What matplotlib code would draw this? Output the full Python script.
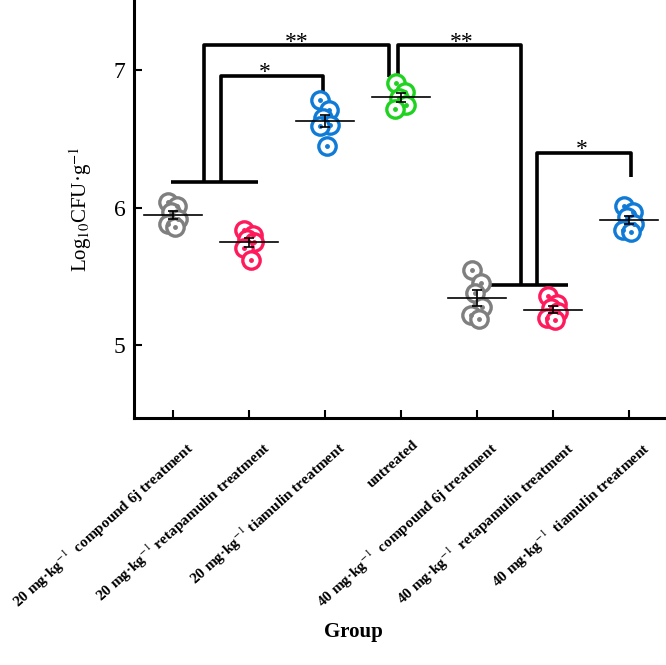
import numpy as np
import matplotlib
matplotlib.use('Agg')
import matplotlib.pyplot as plt
from matplotlib.transforms import ScaledTranslation

plt.rcParams['font.family'] = ['Liberation Serif', 'DejaVu Serif']
plt.rcParams['mathtext.fontset'] = 'stix'

# ============================================================
# 数据 (Log10 CFU/g)
# ============================================================
groups = [
    r'20 mg·kg$^{-1}$  compound 6j treatment',
    r'20 mg·kg$^{-1}$ retapamulin treatment',
    r'20 mg·kg$^{-1}$ tiamulin treatment',
    'untreated',
    r'40 mg·kg$^{-1}$  compound 6j treatment',
    r'40 mg·kg$^{-1}$  retapamulin treatment',
    r'40 mg·kg$^{-1}$  tiamulin treatment',
]
g20_6j = [6.04, 6.01, 5.97, 5.92, 5.88, 5.86]
g20_ret = [5.84, 5.80, 5.77, 5.75, 5.71, 5.62]
g20_tia = [6.78, 6.71, 6.65, 6.60, 6.59, 6.45]
untreated = [6.905, 6.84, 6.80, 6.745, 6.72]
g40_6j = [5.55, 5.45, 5.38, 5.28, 5.22, 5.19]
g40_ret = [5.36, 5.30, 5.27, 5.24, 5.20, 5.18]
g40_tia = [6.01, 5.97, 5.93, 5.88, 5.84, 5.82]
values = [g20_6j, g20_ret, g20_tia, untreated, g40_6j, g40_ret, g40_tia]

colors = ['#7f7f7f', '#ff1a5b', '#0f7bd6', '#1fd21f', '#7f7f7f', '#ff1a5b', '#0f7bd6']
jitter = [-0.06, 0.05, -0.02, 0.07, -0.07, 0.03]

# 显著性标注：折线 (x列表, y列表)
brackets = [
    ([-0.02, 1.12], [6.185, 6.185]),
    ([0.41, 0.41, 2.84, 2.84], [6.185, 7.18, 7.18, 6.95]),
    ([0.63, 0.63, 1.97, 1.97], [6.185, 6.96, 6.96, 6.83]),
    ([4.08, 5.20], [5.436, 5.436]),
    ([2.96, 2.96, 4.58, 4.58], [6.95, 7.18, 7.18, 5.436]),
    ([4.79, 4.79, 6.03, 6.03], [5.436, 6.396, 6.396, 6.22]),
]
stars = [(1.63, 7.20, '**'), (1.21, 6.98, '*'), (3.80, 7.20, '**'), (5.38, 6.42, '*')]

# ============================================================
# 绘图
# ============================================================
fig = plt.figure(figsize=(6.66, 6.65), dpi=100)
ax = fig.add_axes([0.201, 0.371, 0.799, 0.629])

for i, (vals, c) in enumerate(zip(values, colors)):
    vals = np.array(vals)
    xs = i + np.array(jitter[:len(vals)])
    ax.plot(xs, vals, 'o', ms=12.5, mfc='white', mec=c, mew=2.4, zorder=3)
    ax.plot(xs, vals, 'o', ms=2.5, color=c, zorder=3)
    m = vals.mean()
    sem = vals.std(ddof=1) / np.sqrt(len(vals))
    ax.plot([i - 0.38, i + 0.38], [m, m], color='black', lw=1.2, zorder=4)
    ax.errorbar(i, m, yerr=sem, color='black', lw=1.2, capsize=3.5, capthick=1.2, zorder=4)

for bx, by in brackets:
    ax.plot(bx, by, color='black', lw=2.6, solid_capstyle='butt', zorder=2)
for sx, sy, s in stars:
    ax.text(sx, sy, s, ha='center', va='center', fontsize=17)

ax.set_xlim(-0.513, 6.49)
ax.set_ylim(4.469, 7.509)
ax.set_yticks([5, 6, 7])
ax.set_xticks(range(len(groups)))
ax.set_xticklabels([])

# 倾斜的分组标签（手动放置，略向右下偏移）
shift = ScaledTranslation(12 / 100, -20 / 100, fig.dpi_scale_trans)
for i, g in enumerate(groups):
    ax.text(i, 0, g, transform=ax.get_xaxis_transform() + shift,
            rotation=42, ha='right', va='top', rotation_mode='anchor',
            fontsize=11, fontweight='bold')

ax.tick_params(axis='y', direction='in', length=6, width=1.5, labelsize=17, pad=6)
ax.tick_params(axis='x', direction='in', length=6, width=1.5)
for side in ['top', 'right']:
    ax.spines[side].set_visible(False)
for side in ['left', 'bottom']:
    ax.spines[side].set_linewidth(2.2)

ax.set_ylabel(r'Log$_{\mathrm{10}}$CFU·g$^{\mathrm{-1}}$', fontsize=15, labelpad=14)
fig.text(0.53, 0.05, 'Group', ha='center', va='center', fontsize=15, fontweight='bold')

plt.savefig('out.png', dpi=100)
plt.close()
